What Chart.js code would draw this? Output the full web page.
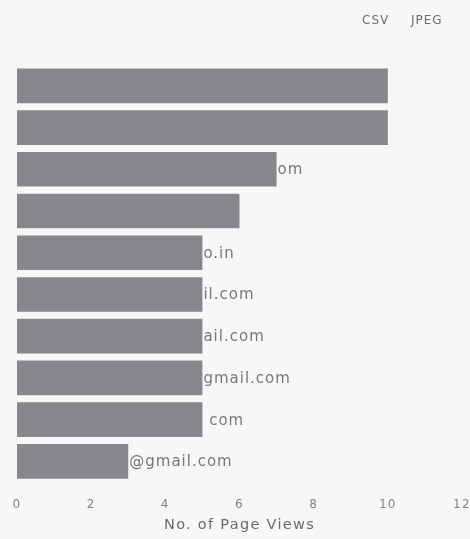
<!DOCTYPE html>
<html>
<head>
<meta charset="utf-8">
<script src="https://cdn.jsdelivr.net/npm/chart.js@4/dist/chart.umd.min.js"></script>
<style>
  html, body { margin: 0; padding: 0; background: #f8f7f8; }
  #wrap { width: 470px; height: 539px; position: relative; }
</style>
</head>
<body>
<div id="wrap"><canvas id="c"></canvas></div>
<script>
// Visible parts of the (partly hidden) category labels
const categories = ["", "", "om", "", "o.in", "il.com", "ail.com", "gmail.com", " com", "@gmail.com"];
const pageViews = [10, 10, 7, 6, 5, 5, 5, 5, 5, 3];
const xTicks = [0, 2, 4, 6, 8, 10, 12];
const axisTitle = "No. of Page Views";
const menuItems = ["CSV", "JPEG"];

const FONT = "'DejaVu Sans', sans-serif";

const tailLabels = {
  id: 'tailLabels',
  afterDatasetsDraw(chart) {
    const ctx = chart.ctx;
    const meta = chart.getDatasetMeta(0);
    ctx.save();
    ctx.letterSpacing = '1px';
    ctx.font = "15px " + FONT;
    ctx.fillStyle = '#78787b';
    ctx.textBaseline = 'middle';
    ctx.textAlign = 'left';
    meta.data.forEach((bar, i) => {
      const t = chart.data.labels[i];
      if (t) ctx.fillText(t, bar.x + 1, bar.y + 1);
    });
    ctx.restore();
  }
};

const menu = {
  id: 'menu',
  afterDraw(chart) {
    const ctx = chart.ctx;
    ctx.save();
    ctx.letterSpacing = '1px';
    ctx.font = "12px " + FONT;
    ctx.fillStyle = '#6e6e6e';
    ctx.textBaseline = 'middle';
    ctx.textAlign = 'left';
    ctx.fillText(menuItems[0], 362, 21);
    ctx.fillText(menuItems[1], 411, 21);
    ctx.restore();
  }
};

const spacing = {
  id: 'spacing',
  beforeDraw(chart) { chart.ctx.letterSpacing = '1.3px'; }
};

new Chart(document.getElementById('c'), {
  type: 'bar',
  data: {
    labels: categories,
    datasets: [{
      data: pageViews,
      backgroundColor: '#88888c',
      borderWidth: 0,
      barPercentage: 1,
      categoryPercentage: 0.83
    }]
  },
  options: {
    indexAxis: 'y',
    responsive: true,
    maintainAspectRatio: false,
    animation: false,
    events: [],
    layout: { padding: { left: 17, right: 8, top: 65, bottom: 5 } },
    plugins: { legend: { display: false }, tooltip: { enabled: false } },
    scales: {
      y: { display: false },
      x: {
        min: 0, max: 12,
        afterBuildTicks(scale) { scale.ticks = xTicks.map(v => ({ value: v })); },
        afterFit(scale) { scale.paddingLeft = 0; scale.paddingRight = 0; },
        grid: { display: false, drawTicks: false },
        border: { display: false },
        ticks: { color: '#838383', font: { family: FONT, size: 12 }, padding: 15, maxRotation: 0, autoSkip: false },
        title: { display: true, text: axisTitle, color: '#6a6a6a', font: { family: FONT, size: 14.5 }, padding: { top: -10, bottom: 0 } }
      }
    }
  },
  plugins: [spacing, tailLabels, menu]
});
</script>
</body>
</html>
